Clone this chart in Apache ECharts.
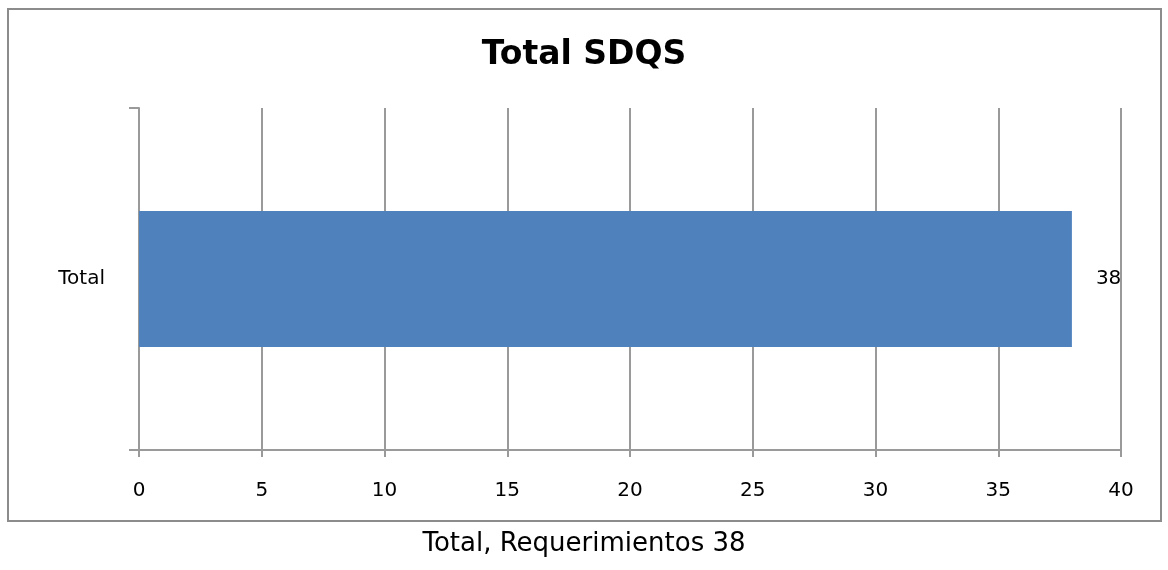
<!DOCTYPE html>
<html>
<head>
<meta charset="utf-8">
<script src="https://cdn.jsdelivr.net/npm/echarts@6/dist/echarts.min.js"></script>
<style>
  html, body { margin: 0; padding: 0; background: #fff; }
  #chart { width: 1168px; height: 570px; }
</style>
</head>
<body>
<div id="chart"></div>
<script>
const categories = ['Total']
const values = [38]
const xTicks = { min: 0, max: 40, interval: 5 }
const titleText = 'Total SDQS'
const captionText = 'Total, Requerimientos 38'

const chart = echarts.init(document.getElementById('chart'))

const gray = '#9a9a9a'

const option = {
  animation: false,
  title: {
    text: titleText,
    left: 'center',
    top: 34,
    textStyle: {
      fontFamily: 'DejaVu Sans',
      fontWeight: 'bold',
      fontSize: 33,
      color: '#000',
    },
  },
  grid: {
    left: 139,
    right: 47,
    top: 108,
    bottom: 120,
  },
  xAxis: {
    type: 'value',
    min: xTicks.min,
    max: xTicks.max,
    interval: xTicks.interval,
    axisLine: { show: true, lineStyle: { color: gray, width: 2 } },
    axisTick: { show: true, length: 7, lineStyle: { color: gray, width: 2 } },
    splitLine: { show: true, lineStyle: { color: gray, width: 2 } },
    axisLabel: {
      margin: 31,
      fontFamily: 'DejaVu Sans',
      fontSize: 20,
      color: '#000',
    },
  },
  yAxis: {
    type: 'category',
    data: categories,
    axisLine: { show: true, lineStyle: { color: gray, width: 2 } },
    axisTick: { show: true, length: 10, lineStyle: { color: gray, width: 2 } },
    axisLabel: {
      margin: 34,
      fontFamily: 'DejaVu Sans',
      fontSize: 20,
      color: '#000',
    },
  },
  series: [
    {
      type: 'bar',
      data: values,
      barWidth: 136,
      itemStyle: { color: '#4f81bd' },
      label: {
        show: true,
        position: 'right',
        distance: 24,
        fontFamily: 'DejaVu Sans',
        fontSize: 20,
        color: '#000',
      },
    },
  ],
  graphic: [
    {
      type: 'rect',
      shape: { x: 8, y: 9, width: 1153, height: 512 },
      style: { fill: 'none', stroke: '#8c8c8c', lineWidth: 2 },
      z: -1,
    },
    {
      type: 'text',
      left: 'center',
      top: 531,
      style: {
        text: captionText,
        fontFamily: 'DejaVu Sans',
        fontSize: 26,
        fill: '#000',
      },
    },
  ],
}

chart.setOption(option)
window.addEventListener('resize', () => chart.resize())
</script>
</body>
</html>
